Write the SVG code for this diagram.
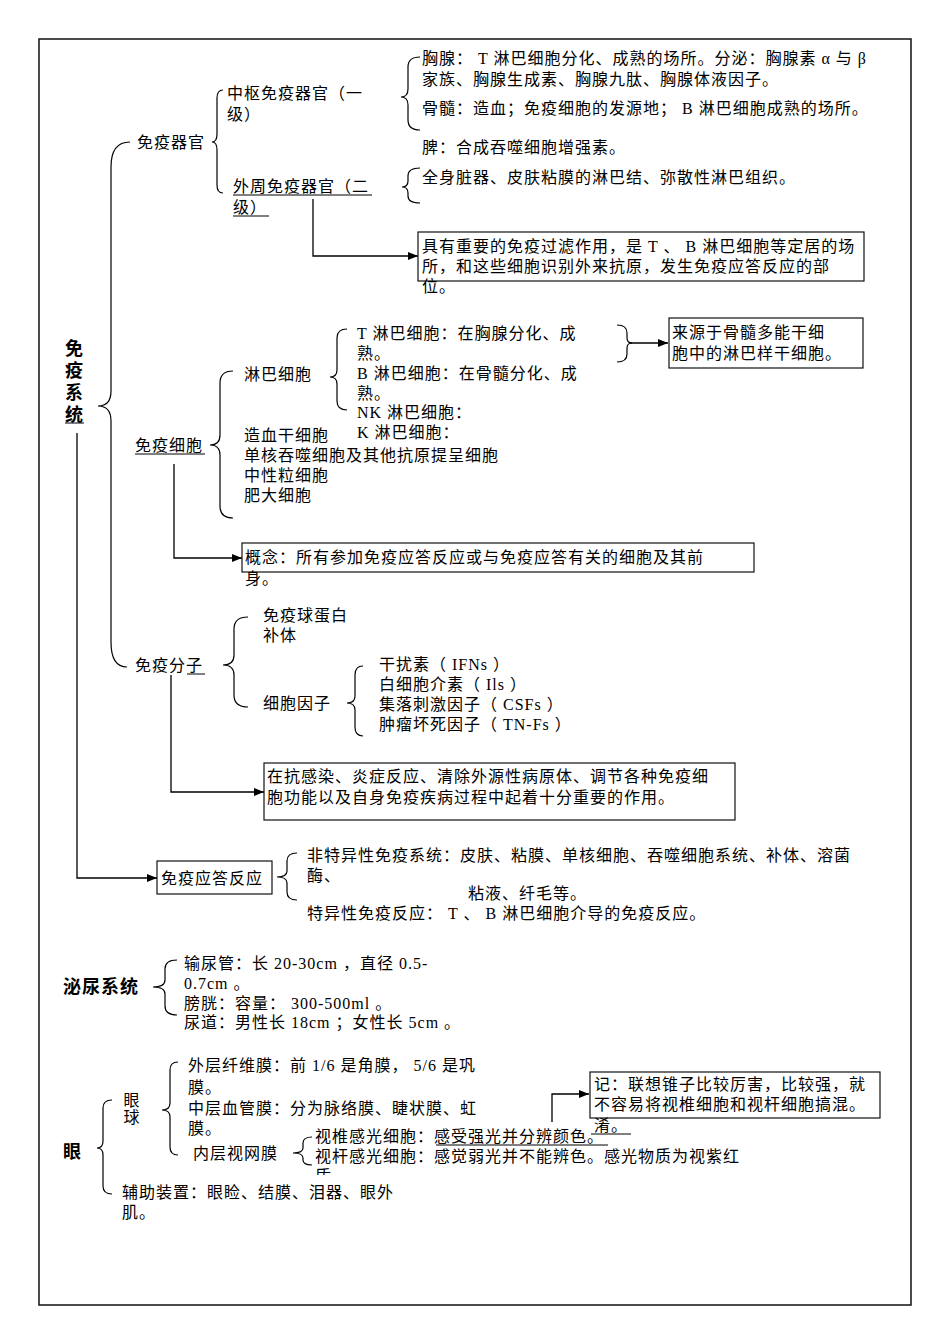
<svg xmlns="http://www.w3.org/2000/svg" width="950" height="1344" viewBox="0 0 950 1344">
<style>
.t{font-family:"Liberation Serif","Noto Sans CJK SC",serif;font-size:16px;letter-spacing:1px;fill:#000}
.h{font-family:"Noto Sans CJK SC",sans-serif;font-weight:bold;font-size:18px;fill:#000}
.v{writing-mode:vertical-rl}
.br{fill:none;stroke:#000;stroke-width:1.2}
.box{fill:#fff;stroke:#111;stroke-width:1.2}
.ln{fill:none;stroke:#000;stroke-width:1.3}
.ul{fill:none;stroke:#000;stroke-width:1}
</style>
<defs>
<marker id="arr" viewBox="0 0 10 8" refX="10" refY="4" markerWidth="10" markerHeight="8" markerUnits="userSpaceOnUse" orient="auto"><path d="M0,0 L10,4 L0,8 z" fill="#000"/></marker>
<clipPath id="clipzhi"><rect x="300" y="1160" width="40" height="15"/></clipPath>
</defs>
<rect x="0" y="0" width="950" height="1344" fill="#fff"/>
<rect x="39" y="39" width="872" height="1266" fill="none" stroke="#111" stroke-width="1.5"/>

<g id="connectors">
<path class="ln" d="M77,433 V878 H157" marker-end="url(#arr)"/>
<path class="ln" d="M313,199 V256 H418" marker-end="url(#arr)"/>
<path class="ln" d="M630,343 H668" marker-end="url(#arr)"/>
<path class="ln" d="M174,464 V558 H242" marker-end="url(#arr)"/>
<path class="ln" d="M171,675 V792 H264" marker-end="url(#arr)"/>
<path class="ln" d="M552,1122 V1094 H589" marker-end="url(#arr)"/>
</g>

<g id="braces">
<path class="br" d="M130,142 Q111,142 111,167 L111,391 Q111,406 98,406 Q111,406 111,421 L111,642 Q111,667 127,667"/>
<path class="br" d="M223,90 Q217,90 217,98 L217,134 Q217,142 212,142 Q217,142 217,150 L217,185 Q217,193 223,193"/>
<path class="br" d="M420,57 Q408,57 408,67 L408,89 Q408,97 401,97 Q408,97 408,105 L408,120 Q408,130 420,130"/>
<path class="br" d="M420,168 Q408,168 408,176 L408,181 Q408,187 402,187 Q408,187 408,193 L408,196 Q408,203 420,203"/>
<path class="br" d="M233,371 Q220,371 220,383 L220,435 Q220,445 210,445 Q220,445 220,455 L220,506 Q220,518 233,518"/>
<path class="br" d="M347,329 Q337,329 337,338 L337,370 Q337,377 330,377 Q337,377 337,384 L337,401 Q337,410 347,410"/>
<path class="br" d="M617,325 Q627,325 627,333 L627,338 Q627,343 632,343 Q627,343 627,348 L627,354 Q627,362 617,362"/>
<path class="br" d="M248,617 Q234,617 234,629 L234,655 Q234,665 223,665 Q234,665 234,675 L234,695 Q234,707 248,707"/>
<path class="br" d="M363,666 Q355,666 355,675 L355,696 Q355,703 347,703 Q355,703 355,710 L355,727 Q355,736 363,736"/>
<path class="br" d="M297,853 Q287,853 287,861 L287,871 Q287,877 277,877 Q287,877 287,883 L287,892 Q287,900 297,900"/>
<path class="br" d="M177,960 Q165,960 165,969 L165,980 Q165,987 153,987 Q165,987 165,994 L165,1006 Q165,1015 177,1015"/>
<path class="br" d="M112,1100 Q103,1100 103,1108 L103,1141 Q103,1148 97,1148 Q103,1148 103,1155 L103,1186 Q103,1194 112,1194"/>
<path class="br" d="M178,1062 Q170,1062 170,1070 L170,1103 Q170,1110 162,1110 Q170,1110 170,1117 L170,1147 Q170,1155 178,1155"/>
<path class="br" d="M312,1137 Q303,1137 303,1143 L303,1148 Q303,1153 293,1153 Q303,1153 303,1158 L303,1160 Q303,1165 312,1165"/>
</g>

<g id="n-immune-system">
<text class="h v" x="74" y="339" letter-spacing="4">免疫系统</text>
<line class="ul" x1="65" y1="423" x2="84" y2="423"/>
</g>

<g id="n-organs">
<text class="t" x="137" y="148">免疫器官</text>
</g>
<g id="n-central">
<text class="t" x="227" y="99">中枢免疫器官（一</text>
<text class="t" x="227" y="120">级）</text>
</g>
<g id="n-peripheral">
<text class="t" x="233" y="192">外周免疫器官（二</text>
<text class="t" x="233" y="213">级）</text>
<line class="ul" x1="233" y1="195" x2="372" y2="195"/>
<line class="ul" x1="233" y1="216" x2="269" y2="216"/>
</g>
<g id="n-thymus">
<text class="t" x="422" y="64">胸腺： T 淋巴细胞分化、成熟的场所。分泌：胸腺素 α 与 β</text>
<text class="t" x="422" y="85">家族、胸腺生成素、胸腺九肽、胸腺体液因子。</text>
<text class="t" x="422" y="114">骨髓：造血；免疫细胞的发源地； B 淋巴细胞成熟的场所。</text>
<text class="t" x="422" y="153">脾：合成吞噬细胞增强素。</text>
</g>
<g id="n-lymph-nodes">
<text class="t" x="422" y="183">全身脏器、皮肤粘膜的淋巴结、弥散性淋巴组织。</text>
</g>
<g id="n-filter">
<rect class="box" x="418" y="232" width="446" height="49"/>
<text class="t" x="422" y="252">具有重要的免疫过滤作用，是 T 、 B 淋巴细胞等定居的场</text>
<text class="t" x="422" y="272">所，和这些细胞识别外来抗原，发生免疫应答反应的部</text>
<text class="t" x="422" y="292">位。</text>
</g>

<g id="n-cells">
<text class="t" x="135" y="451">免疫细胞</text>
<line class="ul" x1="135" y1="454" x2="205" y2="454"/>
</g>
<g id="n-lymphocyte">
<text class="t" x="244" y="380">淋巴细胞</text>
</g>
<g id="n-lymph-types">
<text class="t" x="357" y="339">T 淋巴细胞：在胸腺分化、成</text>
<text class="t" x="357" y="359">熟。</text>
<text class="t" x="357" y="379">B 淋巴细胞：在骨髓分化、成</text>
<text class="t" x="357" y="399">熟。</text>
<text class="t" x="357" y="418">NK 淋巴细胞：</text>
<text class="t" x="357" y="438">K 淋巴细胞：</text>
</g>
<g id="n-other-cells">
<text class="t" x="244" y="441">造血干细胞</text>
<text class="t" x="244" y="461">单核吞噬细胞及其他抗原提呈细胞</text>
<text class="t" x="244" y="481">中性粒细胞</text>
<text class="t" x="244" y="501">肥大细胞</text>
</g>
<g id="n-origin">
<rect class="box" x="669" y="318" width="194" height="50"/>
<text class="t" x="672" y="338">来源于骨髓多能干细</text>
<text class="t" x="672" y="359">胞中的淋巴样干细胞。</text>
</g>
<g id="n-concept">
<rect class="box" x="242" y="543" width="512" height="29"/>
<text class="t" x="245" y="563">概念：所有参加免疫应答反应或与免疫应答有关的细胞及其前</text>
<text class="t" x="245" y="584">身。</text>
</g>

<g id="n-molecules">
<text class="t" x="135" y="671">免疫分子</text>
<line class="ul" x1="187" y1="674" x2="205" y2="674"/>
</g>
<g id="n-ig">
<text class="t" x="263" y="621">免疫球蛋白</text>
<text class="t" x="263" y="641">补体</text>
</g>
<g id="n-cytokine">
<text class="t" x="263" y="709">细胞因子</text>
</g>
<g id="n-cytokine-types">
<text class="t" x="379" y="670">干扰素（ IFNs ）</text>
<text class="t" x="379" y="690">白细胞介素（ Ils ）</text>
<text class="t" x="379" y="710">集落刺激因子（ CSFs ）</text>
<text class="t" x="379" y="730">肿瘤坏死因子（ TN-Fs ）</text>
</g>
<g id="n-role">
<rect class="box" x="264" y="763" width="471" height="57"/>
<text class="t" x="267" y="782">在抗感染、炎症反应、清除外源性病原体、调节各种免疫细</text>
<text class="t" x="267" y="803">胞功能以及自身免疫疾病过程中起着十分重要的作用。</text>
</g>

<g id="n-response">
<rect class="box" x="157" y="861" width="115" height="33"/>
<text class="t" x="161" y="884">免疫应答反应</text>
</g>
<g id="n-response-types">
<text class="t" x="307" y="861">非特异性免疫系统：皮肤、粘膜、单核细胞、吞噬细胞系统、补体、溶菌</text>
<text class="t" x="307" y="881">酶、</text>
<text class="t" x="468" y="899">粘液、纤毛等。</text>
<text class="t" x="307" y="919">特异性免疫反应： T 、 B 淋巴细胞介导的免疫反应。</text>
</g>

<g id="n-urinary">
<text class="h" x="63" y="993" letter-spacing="1">泌尿系统</text>
</g>
<g id="n-urinary-items">
<text class="t" x="184" y="969">输尿管：长 20-30cm ，直径 0.5-</text>
<text class="t" x="184" y="989">0.7cm 。</text>
<text class="t" x="184" y="1009">膀胱：容量： 300-500ml 。</text>
<text class="t" x="184" y="1028">尿道：男性长 18cm ；女性长 5cm 。</text>
</g>

<g id="n-eye">
<text class="h" x="63" y="1158">眼</text>
</g>
<g id="n-eyeball">
<text class="t v" x="130" y="1092" letter-spacing="4">眼球</text>
</g>
<g id="n-eye-layers">
<text class="t" x="188" y="1071">外层纤维膜：前 1/6 是角膜， 5/6 是巩</text>
<text class="t" x="188" y="1093">膜。</text>
<text class="t" x="188" y="1114">中层血管膜：分为脉络膜、睫状膜、虹</text>
<text class="t" x="188" y="1134">膜。</text>
<text class="t" x="193" y="1159">内层视网膜</text>
</g>
<g id="n-retina">
<text class="t" x="315" y="1142">视椎感光细胞：感受强光并分辨颜色。</text>
<line class="ul" x1="436" y1="1145" x2="608" y2="1145"/>
<text class="t" x="315" y="1162">视杆感光细胞：感觉弱光并不能辨色。感光物质为视紫红</text>
<text class="t" x="315" y="1182" clip-path="url(#clipzhi)">质</text>
</g>
<g id="n-accessory">
<text class="t" x="122" y="1198">辅助装置：眼睑、结膜、泪器、眼外</text>
<text class="t" x="122" y="1218">肌。</text>
</g>
<g id="n-note">
<rect class="box" x="590" y="1072" width="290" height="46"/>
<text class="t" x="594" y="1090">记：联想锥子比较厉害，比较强，就</text>
<text class="t" x="594" y="1110">不容易将视椎细胞和视杆细胞搞混。</text>
<text class="t" x="594" y="1131">淆。</text>
<line class="ul" x1="591" y1="1134" x2="631" y2="1134"/>
</g>
</svg>
